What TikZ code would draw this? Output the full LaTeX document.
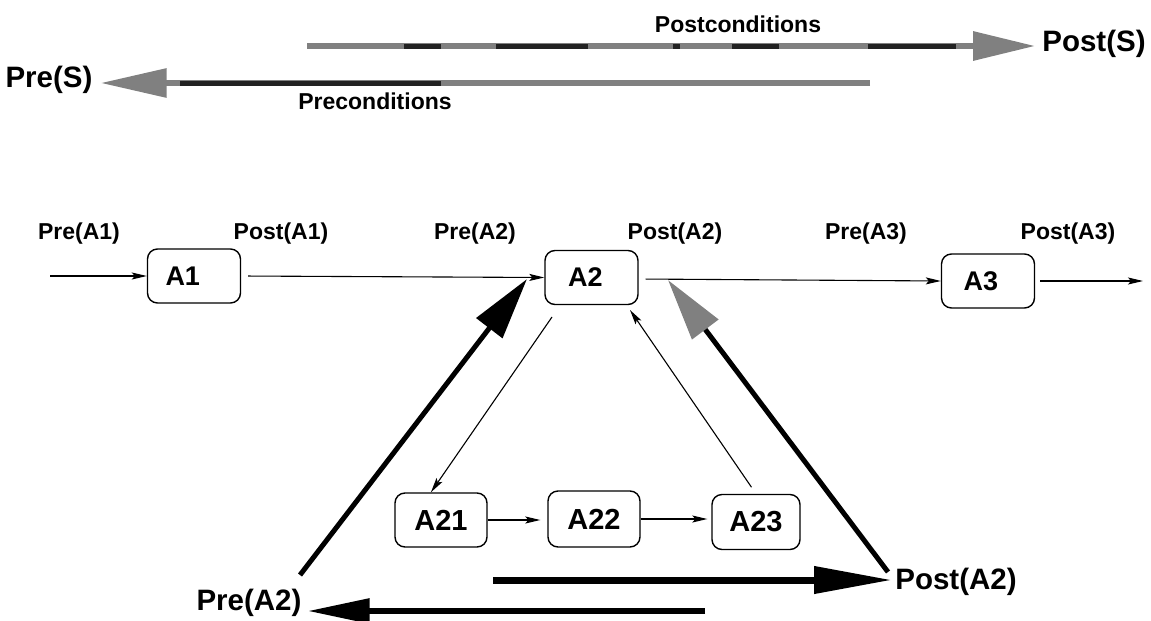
\documentclass[tikz,border=0pt]{standalone}
\usepackage{fontspec}
\setmainfont{Liberation Sans}
\usetikzlibrary{arrows.meta}
\definecolor{arrowgray}{HTML}{808080}
\definecolor{darkseg}{HTML}{222222}
\begin{document}
\begin{tikzpicture}[x=1pt,y=-1pt,
  stepbox/.style={draw, line width=1.4pt, rounded corners=10pt, inner sep=0pt},
  topbox/.style={stepbox, minimum width=93pt, minimum height=54pt, align=left,
    font=\bfseries\fontsize{27}{27}\selectfont},
  subbox/.style={stepbox, minimum width=92pt, minimum height=55pt,
    font=\bfseries\fontsize{29}{29}\selectfont},
  lab/.style={inner sep=0pt, font=\bfseries\fontsize{23}{23}\selectfont},
  biglab/.style={inner sep=0pt, font=\bfseries\fontsize{29.5}{29.5}\selectfont},
  flow/.style={line width=1.1pt, -{Stealth[length=15pt,width=7pt,inset=3pt]}},
  fatarrow/.style={line width=5pt, -{Triangle[length=62pt,width=32pt]}},
]
\useasboundingbox (0,0) rectangle (1151,621);

% ---- system level: pre/postconditions of S ----
\node[lab] (postcond) at (738,24) {Postconditions};
\node[lab] (precond) at (375,101) {Preconditions};
\node[biglab] (postS) at (1094,44) {Post(S)};
\node[biglab] (preS) at (49,80) {Pre(S)};

\coordinate (postStart) at (307,46);
\coordinate (preStart) at (870,83);
\draw[line width=6pt, arrowgray, shorten >=7pt,
      -{Triangle[length=62pt,width=28pt]}] (postStart) -- (postS.west |- postStart);
\foreach \a/\b in {404/441, 496/588, 673/680, 732/779, 868/956}
  \draw[line width=5pt, darkseg] (\a,46) -- (\b,46);
\draw[line width=6pt, arrowgray, shorten >=8pt,
      -{Triangle[length=66pt,width=28pt]}] (preStart) -- (preS.east |- preStart);
\draw[line width=5pt, darkseg] (180,83) -- (441,83);

% ---- top-level activities ----
\node[topbox, text width=57pt, inner xsep=18pt] (A1) at (194,276) {A1};
\node[topbox, text width=47pt, inner xsep=23pt] (A2) at (591.5,277.5) {A2};
\node[topbox, text width=49pt, inner xsep=22pt] (A3) at (988,281) {A3};

\node[lab] (preA1) at (79,234) {Pre(A1)};
\node[lab] (postA1) at (281,234) {Post(A1)};
\node[lab] (preA2) at (475,234) {Pre(A2)};
\node[lab] (postA2) at (675,234) {Post(A2)};
\node[lab] (preA3) at (866,234) {Pre(A3)};
\node[lab] (postA3) at (1068,234) {Post(A3)};

\coordinate (inA1) at (50,276);
\coordinate (outA3) at (1143,281);
\draw[flow] (inA1) -- (A1.west);
\draw[flow, shorten <=7pt] (A1.east) -- (A2.west);
\draw[flow, shorten <=7pt] (A2.east |- 0,279) -- (A3.west);
\draw[flow, shorten <=5pt] (A3.east) -- (outA3);

% ---- refinement of A2 ----
\node[subbox, minimum height=54pt] (A21) at (441,520) {A21};
\node[subbox, minimum height=56pt] (A22) at (594,519) {A22};
\node[subbox, minimum width=88pt] (A23) at (756,522) {A23};

\draw[flow, shorten >=7pt] (A21.east) -- (A22.west |- A21.east);
\draw[flow, shorten >=4pt] (A22.east) -- (A23.west |- A22.east);

\coordinate (a2out) at (552,317);
\coordinate (a2in) at (630,310);
\draw[flow] (a2out) -- (A21.110);
\draw[flow, shorten <=8pt] (A23.north) -- (a2in);

% ---- pre/postconditions of A2 ----
\node[biglab] (preA2b) at (249,603) {Pre(A2)};
\node[biglab] (postA2b) at (956,582) {Post(A2)};

\coordinate (preA2foot) at (300,575);
\coordinate (preA2tip) at (527,279);
\coordinate (postA2foot) at (888,572);
\coordinate (postA2tip) at (668,280);
\draw[fatarrow] (preA2foot) -- (preA2tip);
\draw[line width=5pt, -{Triangle[length=62pt,width=32pt,color=arrowgray]}] (postA2foot) -- (postA2tip);

\coordinate (postA2start) at (493,580);
\coordinate (preA2start) at (705,611);
\draw[line width=7pt, shorten >=3pt, -{Triangle[length=78pt,width=26pt]}] (postA2start) -- (postA2b.west |- postA2start);
\draw[line width=6pt, shorten >=6pt, -{Triangle[length=62pt,width=24pt]}] (preA2start) -- (preA2b.east |- preA2start);
\end{tikzpicture}
\end{document}
